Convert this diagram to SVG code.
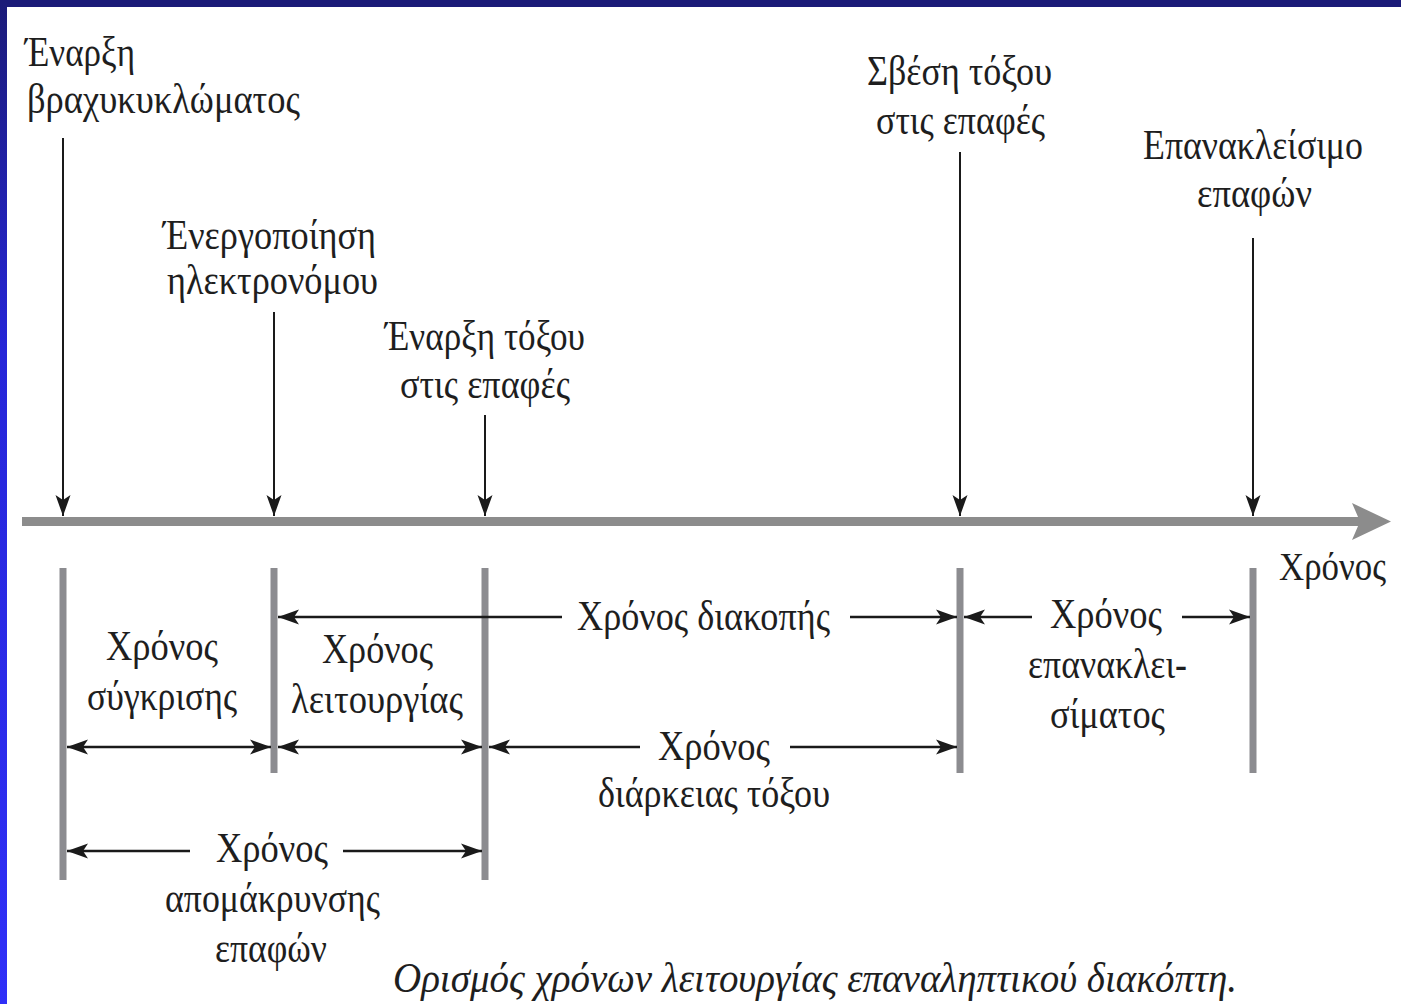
<svg xmlns="http://www.w3.org/2000/svg" width="1401" height="1004" viewBox="0 0 1401 1004">
<defs>
<linearGradient id="lg" x1="0" y1="0" x2="0" y2="1">
<stop offset="0" stop-color="#1b1b78"/>
<stop offset="0.35" stop-color="#2626d8"/>
<stop offset="1" stop-color="#3030f8"/>
</linearGradient>
<marker id="ah" markerUnits="userSpaceOnUse" markerWidth="24" markerHeight="18" viewBox="-22 -8 24 16" refX="0" refY="0" orient="auto-start-reverse">
<path d="M0,0 L-21,-7.5 L-16,0 L-21,7.5 Z" fill="#1a1a1a"/>
</marker>
<style>
.t{font-family:"Liberation Serif","DejaVu Serif",serif;font-size:42px;fill:#1e1e1e}
.c{font-style:italic}
.bar{stroke:#8c8c90;stroke-width:7;fill:none}
.v{stroke:#1a1a1a;stroke-width:2;fill:none;marker-end:url(#ah)}
.d{stroke:#1a1a1a;stroke-width:2.5;fill:none}
.e{marker-end:url(#ah)}
.s{marker-start:url(#ah)}
</style>
</defs>
<rect x="0" y="0" width="1401" height="1004" fill="#ffffff"/>
<rect x="0" y="0" width="1401" height="7" fill="#1b1b78"/>
<rect x="0" y="0" width="7" height="1004" fill="url(#lg)"/>

<g id="timeline">
<line x1="22" y1="521.5" x2="1362" y2="521.5" stroke="#8c8c8c" stroke-width="9"/>
<path d="M1352,503 L1391,521.5 L1352,540 L1360,521.5 Z" fill="#8c8c8c"/>
<text class="t" x="1279" y="580" style="font-size:39px" textLength="107" lengthAdjust="spacingAndGlyphs">Χρόνος</text>
</g>

<g id="bars">
<line class="bar" x1="63" y1="568" x2="63" y2="880"/>
<line class="bar" x1="274" y1="568" x2="274" y2="773"/>
<line class="bar" x1="485" y1="568" x2="485" y2="880"/>
<line class="bar" x1="960" y1="568" x2="960" y2="773"/>
<line class="bar" x1="1253" y1="568" x2="1253" y2="773"/>
</g>

<g id="ev1">
<text class="t" x="25" y="66" textLength="110" lengthAdjust="spacingAndGlyphs">Έναρξη</text>
<text class="t" x="27" y="113" textLength="273" lengthAdjust="spacingAndGlyphs">βραχυκυκλώματος</text>
</g>
<g id="ev2">
<text class="t" x="163" y="249" textLength="213" lengthAdjust="spacingAndGlyphs">Ένεργοποίηση</text>
<text class="t" x="167" y="294" textLength="211" lengthAdjust="spacingAndGlyphs">ηλεκτρονόμου</text>
</g>
<g id="ev3">
<text class="t" x="385" y="350" textLength="200" lengthAdjust="spacingAndGlyphs">Έναρξη τόξου</text>
<text class="t" x="400" y="398" textLength="170" lengthAdjust="spacingAndGlyphs">στις επαφές</text>
</g>
<g id="ev4">
<text class="t" x="867" y="85" textLength="185" lengthAdjust="spacingAndGlyphs">Σβέση τόξου</text>
<text class="t" x="876" y="134" textLength="169" lengthAdjust="spacingAndGlyphs">στις επαφές</text>
</g>
<g id="ev5">
<text class="t" x="1143" y="159" textLength="220" lengthAdjust="spacingAndGlyphs">Επανακλείσιμο</text>
<text class="t" x="1197" y="207" textLength="115" lengthAdjust="spacingAndGlyphs">επαφών</text>
</g>

<g id="lbl-sygkrisis">
<text class="t" x="106" y="660" textLength="112" lengthAdjust="spacingAndGlyphs">Χρόνος</text>
<text class="t" x="87" y="710" textLength="150" lengthAdjust="spacingAndGlyphs">σύγκρισης</text>
</g>
<g id="lbl-leitourgias">
<text class="t" x="322" y="663" textLength="111" lengthAdjust="spacingAndGlyphs">Χρόνος</text>
<text class="t" x="291" y="713" textLength="172" lengthAdjust="spacingAndGlyphs">λειτουργίας</text>
</g>
<g id="lbl-diakopis">
<text class="t" x="577" y="630" textLength="253" lengthAdjust="spacingAndGlyphs">Χρόνος διακοπής</text>
</g>
<g id="lbl-epanaklisimatos">
<text class="t" x="1050" y="628" textLength="112" lengthAdjust="spacingAndGlyphs">Χρόνος</text>
<text class="t" x="1028" y="678" textLength="159" lengthAdjust="spacingAndGlyphs">επανακλει-</text>
<text class="t" x="1050" y="728" textLength="115" lengthAdjust="spacingAndGlyphs">σίματος</text>
</g>
<g id="lbl-diarkeias">
<text class="t" x="658" y="760" textLength="112" lengthAdjust="spacingAndGlyphs">Χρόνος</text>
<text class="t" x="598" y="807" textLength="232" lengthAdjust="spacingAndGlyphs">διάρκειας τόξου</text>
</g>
<g id="lbl-apomakrynsis">
<text class="t" x="216" y="862" textLength="112" lengthAdjust="spacingAndGlyphs">Χρόνος</text>
<text class="t" x="165" y="912" textLength="215" lengthAdjust="spacingAndGlyphs">απομάκρυνσης</text>
<text class="t" x="215" y="962" textLength="112" lengthAdjust="spacingAndGlyphs">επαφών</text>
</g>

<g id="connectors">
<line class="v" x1="63" y1="138" x2="63" y2="516"/>
<line class="v" x1="274" y1="312" x2="274" y2="516"/>
<line class="v" x1="485" y1="415" x2="485" y2="516"/>
<line class="v" x1="960" y1="152" x2="960" y2="516"/>
<line class="v" x1="1253" y1="238" x2="1253" y2="516"/>

<line class="d s" x1="278" y1="617" x2="562" y2="617"/>
<line class="d e" x1="850" y1="617" x2="957" y2="617"/>
<line class="d s" x1="964" y1="617" x2="1032" y2="617"/>
<line class="d e" x1="1182" y1="617" x2="1250" y2="617"/>

<line class="d s e" x1="67" y1="747" x2="271" y2="747"/>
<line class="d s e" x1="278" y1="747" x2="482" y2="747"/>
<line class="d s" x1="489" y1="747" x2="640" y2="747"/>
<line class="d e" x1="790" y1="747" x2="957" y2="747"/>

<line class="d s" x1="67" y1="851" x2="190" y2="851"/>
<line class="d e" x1="343" y1="851" x2="482" y2="851"/>
</g>

<g id="caption">
<text class="t c" x="393" y="992" textLength="844" lengthAdjust="spacingAndGlyphs">Ορισμός χρόνων λειτουργίας επαναληπτικού διακόπτη.</text>
</g>
</svg>
